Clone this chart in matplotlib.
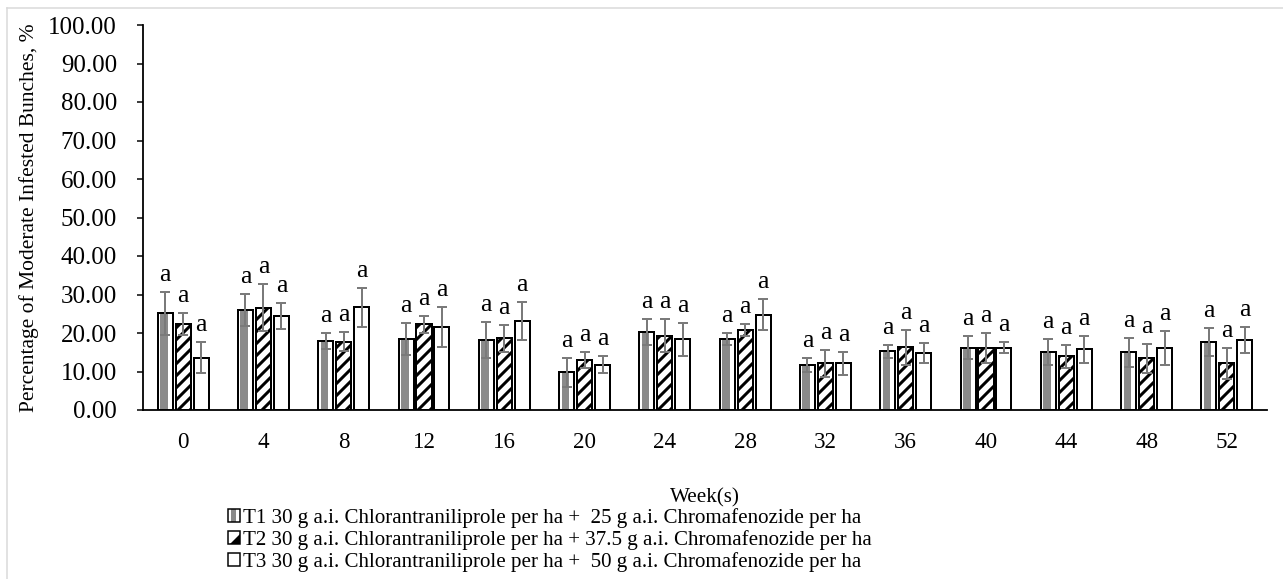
import matplotlib
matplotlib.use("Agg")
import matplotlib.pyplot as plt
import numpy as np
from matplotlib.legend_handler import HandlerBase
from matplotlib.patches import Rectangle, Polygon
from matplotlib.lines import Line2D

plt.rcParams['font.family'] = ['Liberation Serif', 'DejaVu Serif']
plt.rcParams['hatch.linewidth'] = 3.0

weeks = ['0', '4', '8', '12', '16', '20', '24', '28', '32', '36', '40', '44', '48', '52']
labels = ['T1 30 g a.i. Chlorantraniliprole per ha +  25 g a.i. Chromafenozide per ha',
          'T2 30 g a.i. Chlorantraniliprole per ha + 37.5 g a.i. Chromafenozide per ha',
          'T3 30 g a.i. Chlorantraniliprole per ha +  50 g a.i. Chromafenozide per ha']

t1 = [25.1, 26.0, 18.0, 18.4, 18.2, 9.8, 20.3, 18.5, 11.7, 15.3, 16.2, 15.1, 15.0, 17.7]
t2 = [22.3, 26.6, 17.7, 22.3, 18.6, 13.0, 19.3, 20.8, 12.1, 16.3, 16.0, 13.9, 13.4, 12.1]
t3 = [13.6, 24.5, 26.7, 21.6, 23.2, 11.8, 18.4, 24.8, 12.1, 14.7, 16.2, 15.8, 16.0, 18.2]
t1_err = [5.5, 4.1, 2.1, 4.1, 4.6, 3.8, 3.4, 1.6, 1.7, 1.7, 3.0, 3.4, 3.8, 3.7]
t2_err = [2.9, 6.0, 2.5, 2.2, 3.5, 2.1, 4.3, 1.5, 3.6, 4.5, 3.9, 2.9, 3.7, 4.0]
t3_err = [4.1, 3.4, 5.1, 5.2, 4.9, 2.2, 4.3, 4.1, 3.0, 2.6, 1.5, 3.5, 4.4, 3.4]
letters = ['a'] * len(weeks)

W, H = 1283, 579
fig = plt.figure(figsize=(W / 72, H / 72), dpi=72)
ax = fig.add_axes([143 / W, 1 - 410 / H, (1267 - 143) / W, (410 - 25) / H])

x = np.arange(len(weeks))
bw = 0.187
step = 0.224
grey = '#8a8a8a'
ecol = '#7a7a7a'

series = [(t1, t1_err), (t2, t2_err), (t3, t3_err)]
for i, (vals, errs) in enumerate(series):
    xs = x + (i - 1) * step
    if i == 1:
        ax.bar(xs, vals, bw, facecolor='white', edgecolor='black', hatch='//', linewidth=0, zorder=2)
    else:
        ax.bar(xs, vals, bw, facecolor='white', edgecolor='none', zorder=2)
    if i == 0:
        ax.bar(xs - bw * 0.08, vals, bw * 0.5, facecolor=grey, edgecolor='none', zorder=2.5)
    ax.bar(xs, vals, bw, facecolor='none', edgecolor='black', linewidth=2, zorder=3)
    ax.errorbar(xs, vals, yerr=errs, fmt='none', ecolor=ecol, elinewidth=2,
                capsize=5, capthick=2, zorder=4)
    for xi, v, e, s in zip(xs, vals, errs, letters):
        ax.annotate(s, (xi, v + e), xytext=(0, 6), textcoords='offset points',
                    ha='center', va='bottom', fontsize=26)

ax.set_xlim(-0.5, len(weeks) - 0.5)
ax.set_ylim(0, 100)
ax.set_yticks(np.arange(0, 101, 10))
ax.set_yticklabels(['%.2f' % v for v in np.arange(0, 101, 10)])
ax.set_xticks(x)
ax.set_xticklabels(weeks)
ax.tick_params(axis='y', length=6, width=1.5, pad=20, labelsize=25)
ax.tick_params(axis='x', length=0, pad=22, labelsize=23)
for s in ['top', 'right']:
    ax.spines[s].set_visible(False)
ax.spines['left'].set_linewidth(1.8)
ax.spines['bottom'].set_linewidth(1.8)
ax.set_xlabel('Week(s)', fontsize=21, labelpad=35)
ax.set_ylabel('Percentage of Moderate Infested Bunches, %', fontsize=21.5, labelpad=9)


class BoxHandler(HandlerBase):
    def __init__(self, kind):
        super().__init__()
        self.kind = kind

    def create_artists(self, legend, orig_handle, xdescent, ydescent, width, height, fontsize, trans):
        x0, y0 = -xdescent, -ydescent
        arts = [Rectangle((x0, y0), width, height, facecolor='white', edgecolor='none', transform=trans)]
        if self.kind == 0:
            arts.append(Rectangle((x0 + width * 0.3, y0), width * 0.4, height, facecolor=grey,
                                  edgecolor='none', transform=trans))
        elif self.kind == 1:
            arts.append(Polygon([(x0 + width * 0.2, y0), (x0 + width, y0), (x0 + width, y0 + height * 0.8)],
                                closed=True, facecolor='black', edgecolor='none', transform=trans))
        arts.append(Rectangle((x0, y0), width, height, facecolor='none', edgecolor='black',
                              linewidth=1.5, transform=trans))
        return arts


handles = [Rectangle((0, 0), 1, 1) for _ in range(3)]
fig.legend(handles, labels, loc='upper left', bbox_to_anchor=(228 / W, 1 - 508 / H),
           frameon=False, fontsize=21, handlelength=0.55, handleheight=0.55,
           handletextpad=0.17, labelspacing=0.1, borderpad=0, borderaxespad=0,
           handler_map={h: BoxHandler(k) for k, h in enumerate(handles)})

fig.add_artist(Line2D([7 / W, 1], [1 - 8 / H, 1 - 8 / H], color='#d9d9d9', lw=1.5))
fig.add_artist(Line2D([7 / W, 7 / W], [0, 1 - 8 / H], color='#d9d9d9', lw=1.5))

fig.savefig('out.png', dpi=72)
